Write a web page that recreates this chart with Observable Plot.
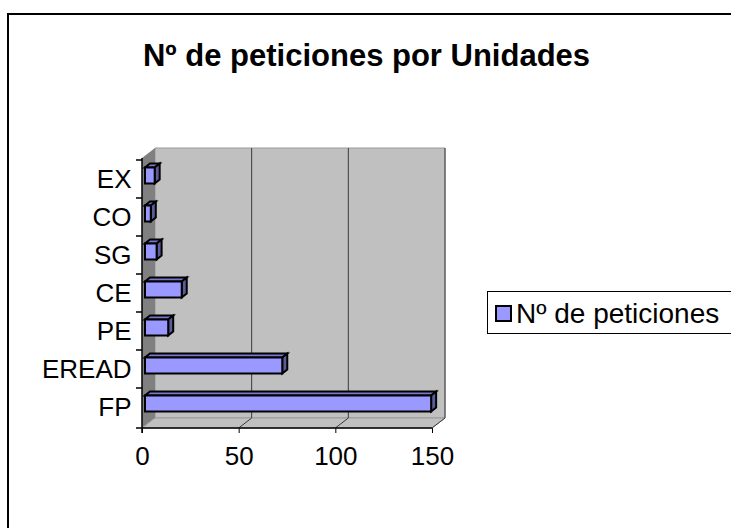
<!DOCTYPE html>
<html>
<head>
<meta charset="utf-8">
<script src="https://cdn.jsdelivr.net/npm/d3@7"></script>
<script src="https://cdn.jsdelivr.net/npm/@observablehq/plot@0.6"></script>
<style>
  body { margin: 0; background: #fff; }
  #wrap { position: relative; width: 731px; height: 528px; overflow: hidden; font-family: "Liberation Sans", Arial, sans-serif; background: #fff; }
  #border { position: absolute; left: 7px; top: 13px; width: 760px; height: 600px; border-left: 2px solid #000; border-top: 2px solid #000; box-sizing: border-box; }
  #title { position: absolute; left: 0; top: 40px; width: 733px; text-align: center; font-weight: bold; font-size: 31px; line-height: 31px; color: #000; white-space: nowrap; }
  #chart { position: absolute; left: 0; top: 0; }
  #legend { position: absolute; left: 487px; top: 291px; width: 270px; height: 43px; border: 1px solid #000; box-sizing: border-box; background: #fff; }
  #legend .sw { position: absolute; left: 7px; top: 13px; width: 17px; height: 17px; background: #9999ff; border: 2px solid #000; box-sizing: border-box; }
  #legend .lt { position: absolute; left: 28px; top: 8px; font-size: 28px; line-height: 28px; color: #000; white-space: nowrap; }
</style>
</head>
<body>
<div id="wrap">
  <div id="border"></div>
  <div id="title"></div>
  <div id="chart"></div>
  <div id="legend"><span class="sw"></span><span class="lt"></span></div>
</div>
<script>
// ---- data ----
const categories = ["EX", "CO", "SG", "CE", "PE", "EREAD", "FP"];
const peticiones = [5, 3, 6, 19, 12, 71, 148];
const xTicks = [0, 50, 100, 150];
const seriesLabel = "Nº de peticiones";
const chartTitle = "Nº de peticiones por Unidades";

const rows = categories.map((c, i) => ({unidad: c, n: peticiones[i]}));

// ---- 3D look ----
const DEPTH = [13, -10];
const BAR_OFF = [3, -2.5];
const BAR_DEPTH = [5, -4];

function frameOf(dim) {
  return {
    L: dim.marginLeft, R: dim.width - dim.marginRight,
    T: dim.marginTop, B: dim.height - dim.marginBottom
  };
}
function poly(g, pts, fill, stroke, sw) {
  return g.append("polygon")
    .attr("points", pts.map(p => p.join(",")).join(" "))
    .attr("fill", fill)
    .attr("stroke", stroke || "none")
    .attr("stroke-width", sw || 1);
}

const walls = (index, scales, values, dim) => {
  const {L, R, T, B} = frameOf(dim);
  const [dx, dy] = DEPTH;
  const g = d3.create("svg:g");
  poly(g, [[L + dx, T + dy], [R + dx, T + dy], [R + dx, B + dy], [L + dx, B + dy]], "#c0c0c0", "#9a9a9a");
  poly(g, [[L, T], [L + dx, T + dy], [L + dx, B + dy], [L, B]], "#808080");
  poly(g, [[L, B], [R, B], [R + dx, B + dy], [L + dx, B + dy]], "#c0c0c0", "#9a9a9a");
  for (const t of xTicks.slice(1)) {
    const x = scales.x(t);
    g.append("line").attr("x1", x + dx).attr("x2", x + dx).attr("y1", T + dy).attr("y2", B + dy)
      .attr("stroke", "#3a3a3a").attr("stroke-width", 1);
    g.append("line").attr("x1", x).attr("x2", x + dx).attr("y1", B).attr("y2", B + dy)
      .attr("stroke", "#3a3a3a").attr("stroke-width", 1);
  }
  return g.node();
};

const bars = Plot.barX(rows, {
  x: "n", y: "unidad",
  fill: "#9999ff", stroke: "#000", strokeWidth: 2,
  insetTop: 10, insetBottom: 12,
  dx: BAR_OFF[0], dy: BAR_OFF[1],
  render(index, scales, values, dim, ctx, next) {
    const g = next(index, scales, values, dim, ctx);
    const [bx, by] = BAR_DEPTH;
    for (const r of Array.from(g.querySelectorAll("rect"))) {
      const x = +r.getAttribute("x"), y = +r.getAttribute("y");
      const w = +r.getAttribute("width"), h = +r.getAttribute("height");
      const sel = d3.select(g);
      const top = poly(sel, [[x, y], [x + w, y], [x + w + bx, y + by], [x + bx, y + by]], "#7777cc", "#000", 2);
      const side = poly(sel, [[x + w, y], [x + w + bx, y + by], [x + w + bx, y + h + by], [x + w, y + h]], "#5c5c99", "#000", 2);
      g.insertBefore(top.node(), r);
      g.insertBefore(side.node(), r);
    }
    return g;
  }
});

const axesLines = (index, scales, values, dim) => {
  const {L, R, T, B} = frameOf(dim);
  const g = d3.create("svg:g").attr("stroke", "#000").attr("stroke-width", 1.5);
  g.append("line").attr("x1", L).attr("x2", L).attr("y1", T).attr("y2", B + 5);
  g.append("line").attr("x1", L).attr("x2", R).attr("y1", B).attr("y2", B);
  const bounds = categories.map(c => scales.y(c)).concat([B]);
  for (const yb of bounds) {
    g.append("line").attr("x1", L - 6).attr("x2", L).attr("y1", yb).attr("y2", yb);
  }
  return g.node();
};

const chart = Plot.plot({
  width: 731, height: 528,
  marginLeft: 142, marginRight: 299, marginTop: 158, marginBottom: 100,
  style: {fontFamily: "'Liberation Sans', Arial, sans-serif", fontSize: "26px", color: "#000", background: "transparent", overflow: "visible"},
  x: {domain: [0, 150], ticks: xTicks, tickSize: 5, tickPadding: 13, label: null},
  y: {domain: categories, padding: 0, tickSize: 0, tickPadding: 11, label: null},
  marks: [walls, bars, axesLines]
});

document.getElementById("chart").appendChild(chart);
document.getElementById("title").textContent = chartTitle;
document.querySelector("#legend .lt").textContent = seriesLabel;
</script>
</body>
</html>
